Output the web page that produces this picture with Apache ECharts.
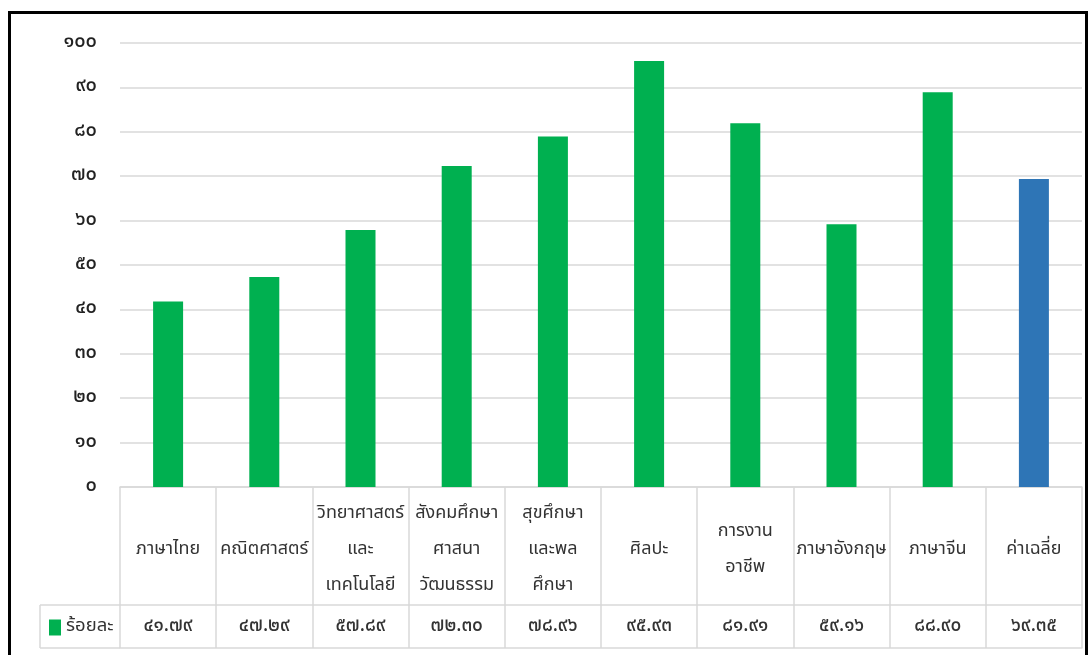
<!DOCTYPE html>
<html>
<head>
<meta charset="utf-8">
<script src="https://cdn.jsdelivr.net/npm/echarts@6/dist/echarts.min.js"></script>
<style>
  html, body { margin: 0; padding: 0; background: #fff; overflow: hidden; }
  #chart { position: absolute; left: 0; top: 0; width: 1089px; height: 655px; }
  .frame { position: absolute; left: 8px; top: 11px; width: 1074px; height: 700px; border: 3px solid #000; pointer-events: none; }
</style>
</head>
<body>
<div id="chart"></div>
<div class="frame"></div>
<script>
const categories = [
  'ภาษาไทย', 'คณิตศาสตร์', 'วิทยาศาสตร์\nและ\nเทคโนโลยี', 'สังคมศึกษา\nศาสนา\nวัฒนธรรม',
  'สุขศึกษา\nและพล\nศึกษา', 'ศิลปะ', 'การงาน\nอาชีพ', 'ภาษาอังกฤษ', 'ภาษาจีน', 'ค่าเฉลี่ย'
];
const percent = [41.79, 47.29, 57.89, 72.30, 78.96, 95.93, 81.91, 59.16, 88.90, 69.35];
const seriesName = 'ร้อยละ';
const thaiDigits = ['๐', '๑', '๒', '๓', '๔', '๕', '๖', '๗', '๘', '๙'];

const FONT = '"Noto Sans Thai", "Noto Sans", "DejaVu Sans", sans-serif';
const LINE = '#d9d9d9';
const TXT = '#333333';

// แปลงเลขอารบิกเป็นเลขไทย
function toThai(s) {
  return String(s).replace(/[0-9]/g, d => thaiDigits[+d]);
}

const chart = echarts.init(document.getElementById('chart'));

chart.setOption({
  animation: false,
  textStyle: { fontFamily: FONT },
  grid: { left: 120, right: 7, top: 43, bottom: 168 },
  legend: {
    left: 44, top: 613,
    itemWidth: 12, itemHeight: 16, itemGap: 4,
    icon: 'rect',
    textStyle: { fontSize: 18.5, color: TXT, fontFamily: FONT, padding: [0, 0, 0, 0] },
    data: [seriesName]
  },
  xAxis: [
    {
      type: 'category',
      data: categories,
      position: 'bottom',
      axisLine: { show: true, lineStyle: { color: LINE, width: 1.5 } },
      axisTick: { show: true, length: 118, lineStyle: { color: LINE, width: 1.5 } },
      axisLabel: {
        interval: 0, margin: 63, verticalAlign: 'middle',
        fontSize: 18, lineHeight: 36, color: TXT, fontFamily: FONT
      }
    },
    {
      type: 'category',
      data: percent.map(v => toThai(v.toFixed(2))),
      position: 'bottom',
      offset: 118,
      axisLine: { show: true, lineStyle: { color: LINE, width: 1.5 } },
      axisTick: { show: true, length: 43, lineStyle: { color: LINE, width: 1.5 } },
      axisLabel: {
        interval: 0, margin: 22, verticalAlign: 'middle',
        fontSize: 19, fontWeight: 500, color: TXT, fontFamily: FONT
      }
    },
    {
      type: 'category',
      data: categories,
      position: 'bottom',
      offset: 161,
      axisLine: { show: true, lineStyle: { color: LINE, width: 1.5 } },
      axisTick: { show: false },
      axisLabel: { show: false }
    }
  ],
  yAxis: {
    type: 'value',
    min: 0, max: 100, interval: 10,
    axisLine: { show: false },
    axisTick: { show: false },
    axisLabel: {
      margin: 23, fontSize: 20, fontWeight: 500, color: '#222', fontFamily: FONT,
      formatter: v => toThai(v)
    },
    splitLine: { lineStyle: { color: LINE, width: 1.5 } }
  },
  graphic: [
    // ช่องคำอธิบายด้านซ้ายของแถวค่า
    { type: 'line', shape: { x1: 40, y1: 605, x2: 120, y2: 605 }, style: { stroke: LINE, lineWidth: 1.5 } },
    { type: 'line', shape: { x1: 40, y1: 648, x2: 120, y2: 648 }, style: { stroke: LINE, lineWidth: 1.5 } },
    { type: 'line', shape: { x1: 40, y1: 605, x2: 40, y2: 648 }, style: { stroke: LINE, lineWidth: 1.5 } }
  ],
  series: [
    {
      name: seriesName,
      type: 'bar',
      xAxisIndex: 0,
      barWidth: 30,
      itemStyle: { color: '#00b050' },
      data: percent.map((v, i) => i === percent.length - 1
        ? { value: v, itemStyle: { color: '#2e75b6' } }
        : v)
    }
  ]
});
</script>
</body>
</html>
